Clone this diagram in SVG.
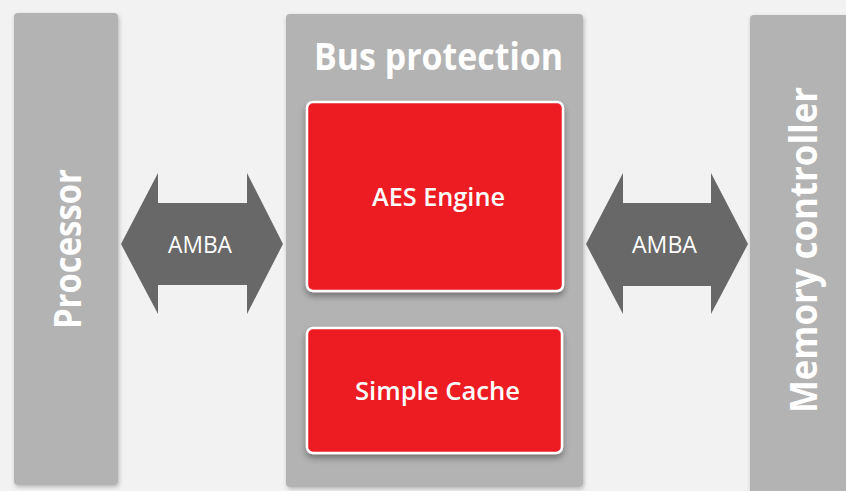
<svg xmlns="http://www.w3.org/2000/svg" width="846" height="491" viewBox="0 0 846 491">
  <defs>
    <filter id="sh" x="-20%" y="-20%" width="140%" height="140%">
      <feDropShadow dx="1" dy="2" stdDeviation="2" flood-color="#000" flood-opacity="0.25"/>
    </filter>
    <filter id="shr" x="-20%" y="-20%" width="140%" height="140%">
      <feDropShadow dx="0" dy="4" stdDeviation="3" flood-color="#000" flood-opacity="0.35"/>
    </filter>
  </defs>
  <style>
    .panel { fill: #b3b3b3; filter: url(#sh); }
    .red { fill: #ed1c24; stroke: #ffffff; stroke-width: 2.5; filter: url(#shr); }
    .arrow { fill: #686868; }
    text { fill: #ffffff; font-family: "Open Sans", "Liberation Sans", sans-serif; text-anchor: middle; }
    .big { font-size: 38px; font-weight: 700; }
    .mid { font-size: 26px; font-weight: 600; }
    .lab { font-size: 23px; font-weight: 400; }
  </style>
  <rect width="846" height="491" fill="#f2f2f2"/>

  <g id="processor">
    <rect class="panel" x="14" y="13" width="104" height="472" rx="4"/>
    <text class="big" transform="translate(81,249) rotate(-90)" textLength="160" lengthAdjust="spacingAndGlyphs">Processor</text>
  </g>

  <g id="bus-protection">
    <rect class="panel" x="286" y="14" width="297" height="473" rx="4"/>
    <text class="big" x="438.5" y="70" font-size="36" textLength="249" lengthAdjust="spacingAndGlyphs">Bus protection</text>
  </g>

  <g id="aes-engine">
    <rect class="red" x="307" y="102" width="256" height="189" rx="6"/>
    <text class="mid" x="438.5" y="206" textLength="133" lengthAdjust="spacingAndGlyphs">AES Engine</text>
  </g>

  <g id="simple-cache">
    <rect class="red" x="307" y="328" width="255" height="125" rx="6"/>
    <text class="mid" x="437.5" y="400" textLength="165" lengthAdjust="spacingAndGlyphs">Simple Cache</text>
  </g>

  <g id="memory-controller">
    <rect class="panel" x="750" y="15" width="110" height="490" rx="4"/>
    <text class="big" transform="translate(817,250) rotate(-90)" textLength="326" lengthAdjust="spacingAndGlyphs">Memory controller</text>
  </g>

  <g id="connectors">
    <path class="arrow" d="M121,244 L158,173 L158,203 L247,203 L247,173 L283,244 L247,314 L247,285 L158,285 L158,314 Z"/>
    <text class="lab" x="200" y="253" textLength="64" lengthAdjust="spacingAndGlyphs">AMBA</text>
    <path class="arrow" d="M586,244 L623,173 L623,203 L711,203 L711,173 L748,244 L711,314 L711,286 L623,286 L623,314 Z"/>
    <text class="lab" x="664.5" y="253" textLength="65" lengthAdjust="spacingAndGlyphs">AMBA</text>
  </g>
</svg>
